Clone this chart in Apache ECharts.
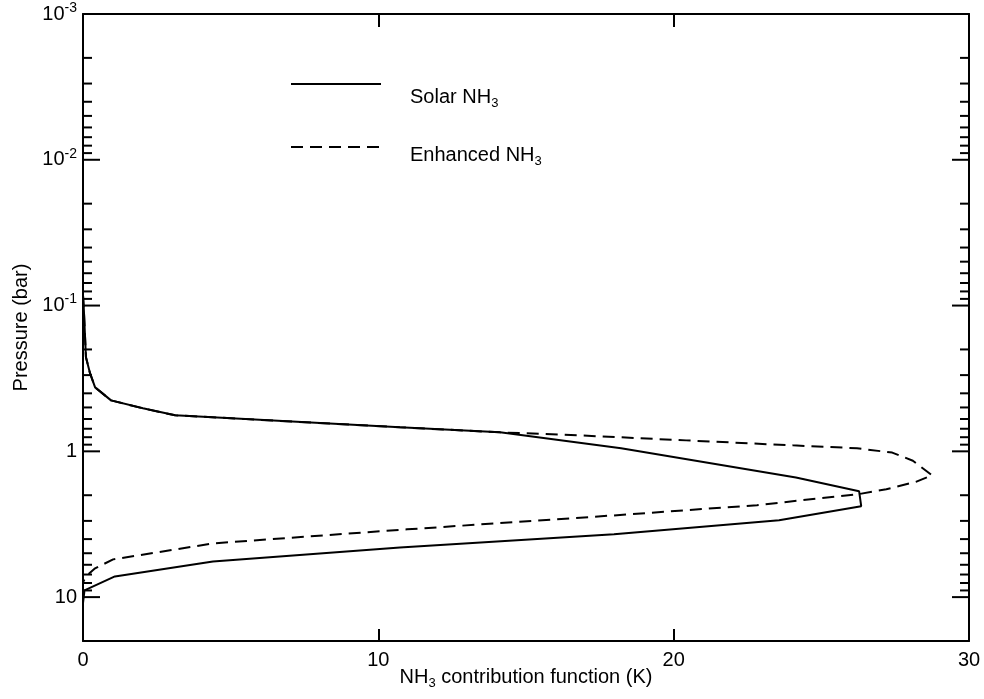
<!DOCTYPE html>
<html>
<head>
<meta charset="utf-8">
<script src="https://cdn.jsdelivr.net/npm/echarts@6/dist/echarts.min.js"></script>
<style>
  html, body { margin: 0; padding: 0; background: #fff; }
  #chart { width: 984px; height: 699px; }
</style>
</head>
<body>
<div id="chart"></div>
<script>
// ---- Data ----
// Solar NH3 contribution function: x = contribution (K), p = pressure (bar)
const solarX = [0, 0.03, 0.07, 0.10, 0.24, 0.41, 0.95, 2.03, 3.12, 10.73, 14.12, 18.22, 24.14, 26.28, 26.35, 23.57, 17.98, 10.73, 4.40, 1.08, 0.05, 0];
const solarP = [0.085, 0.108, 0.165, 0.226, 0.292, 0.364, 0.447, 0.507, 0.566, 0.684, 0.741, 0.954, 1.51, 1.88, 2.38, 2.97, 3.71, 4.56, 5.69, 7.21, 8.99, 11.0];

// Enhanced NH3 contribution function
const enhancedX = [0, 0.03, 0.07, 0.10, 0.24, 0.41, 0.95, 2.03, 3.12, 10.73, 14.12, 16.80, 20.42, 24.04, 26.21, 27.40, 28.10, 28.75, 28.20, 27.20, 26.30, 22.82, 17.98, 10.97, 4.40, 1.02, 0.41, 0.10, 0];
const enhancedP = [0.085, 0.108, 0.165, 0.226, 0.292, 0.364, 0.447, 0.507, 0.566, 0.684, 0.741, 0.777, 0.841, 0.910, 0.953, 1.02, 1.16, 1.46, 1.62, 1.82, 1.96, 2.34, 2.75, 3.43, 4.28, 5.51, 6.35, 7.21, 7.92];

// Axis settings / tick values
const xTicks = [0, 10, 20, 30];
const pressureMin = 0.001;
const pressureMax = 20;
const majorTickValues = [0.001, 0.01, 0.1, 1, 10];
const minorTickValues = [
  0.002, 0.003, 0.004, 0.005, 0.006, 0.007, 0.008, 0.009,
  0.02, 0.03, 0.04, 0.05, 0.06, 0.07, 0.08, 0.09,
  0.2, 0.3, 0.4, 0.5, 0.6, 0.7, 0.8, 0.9,
  2, 3, 4, 5, 6, 7, 8, 9
];
const seriesNames = ['Solar NH3', 'Enhanced NH3'];

// ---- Build ----
const FONT = '"Liberation Sans", Arial, Helvetica, sans-serif';
const solarData = solarX.map((x, i) => [x, solarP[i]]);
const enhancedData = enhancedX.map((x, i) => [x, enhancedP[i]]);
const tickData = majorTickValues.map(v => [xTicks[0], v, 17])
  .concat(minorTickValues.map(v => [xTicks[0], v, 9]));

function pLabel(v) {
  const l = Math.log10(v);
  const e = Math.round(l);
  if (Math.abs(l - e) > 1e-6) return '';
  if (e === 0) return '1';
  if (e === 1) return '10';
  return '10{sup|' + e + '}';
}

const chart = echarts.init(document.getElementById('chart'), null, { renderer: 'canvas' });

const baseText = { color: '#000', fontFamily: FONT, fontSize: 20 };
const subStyle = { fontFamily: FONT, fontSize: 13, color: '#000', verticalAlign: 'bottom', lineHeight: 13 };

chart.setOption({
  animation: false,
  backgroundColor: '#fff',
  grid: { left: 83, right: 15, top: 14, bottom: 58, containLabel: false, outerBoundsMode: 'none' },
  legend: [
    {
      data: [seriesNames[0]], left: 290, top: 58, padding: 0,
      itemWidth: 90, itemHeight: 14, selectedMode: false,
      itemStyle: { opacity: 0 },
      formatter: n => n.replace('NH3', 'NH{sub|3}'),
      textStyle: Object.assign({}, baseText, { lineHeight: 26, padding: [26, 0, 0, 24], rich: { sub: subStyle } })
    },
    {
      data: [seriesNames[1]], left: 290, top: 126, padding: 0,
      itemWidth: 90, itemHeight: 14, selectedMode: false,
      itemStyle: { opacity: 0 },
      formatter: n => n.replace('NH3', 'NH{sub|3}'),
      textStyle: Object.assign({}, baseText, { lineHeight: 26, padding: [16, 0, 0, 24], rich: { sub: subStyle } })
    }
  ],
  xAxis: [
    {
      type: 'value', min: xTicks[0], max: xTicks[xTicks.length - 1], interval: 10,
      position: 'bottom',
      name: 'NH{sub|3} contribution function (K)',
      nameLocation: 'middle', nameGap: 23, nameMoveOverlap: false,
      nameTextStyle: Object.assign({}, baseText, { lineHeight: 26, rich: { sub: subStyle } }),
      axisLine: { show: true, onZero: false, lineStyle: { color: '#000', width: 2 } },
      axisTick: { show: true, inside: true, length: 12, lineStyle: { color: '#000', width: 2 } },
      axisLabel: Object.assign({}, baseText, { margin: 9 }),
      splitLine: { show: false }
    },
    {
      type: 'value', min: xTicks[0], max: xTicks[xTicks.length - 1], interval: 10,
      position: 'top',
      axisLine: { show: true, onZero: false, lineStyle: { color: '#000', width: 2 } },
      axisTick: { show: true, inside: true, length: 13, lineStyle: { color: '#000', width: 2 } },
      axisLabel: { show: false },
      splitLine: { show: false }
    }
  ],
  yAxis: [
    {
      type: 'log', logBase: 10, min: pressureMin, max: pressureMax, inverse: true,
      position: 'left',
      name: 'Pressure (bar)', nameLocation: 'middle', nameGap: 50, nameRotate: 90, nameMoveOverlap: false,
      nameTextStyle: Object.assign({}, baseText, { lineHeight: 24 }),
      axisLine: { show: true, onZero: false, lineStyle: { color: '#000', width: 2 } },
      axisTick: { show: false },
      axisLabel: Object.assign({}, baseText, {
        margin: 6, lineHeight: 26, formatter: pLabel,
        rich: { sup: { fontFamily: FONT, fontSize: 14, color: '#000', verticalAlign: 'top', lineHeight: 14 } }
      }),
      splitLine: { show: false }, minorTick: { show: false }
    },
    {
      type: 'log', logBase: 10, min: pressureMin, max: pressureMax, inverse: true,
      position: 'right',
      axisLine: { show: true, onZero: false, lineStyle: { color: '#000', width: 2 } },
      axisTick: { show: false },
      axisLabel: { show: false },
      splitLine: { show: false }
    }
  ],
  series: [
    {
      name: seriesNames[0], type: 'line', data: solarData,
      xAxisIndex: 0, yAxisIndex: 0, symbol: 'none', showSymbol: false,
      lineStyle: { color: '#000', width: 2, type: 'solid' }, itemStyle: { color: '#000' },
      z: 3
    },
    {
      name: seriesNames[1], type: 'line', data: enhancedData,
      xAxisIndex: 0, yAxisIndex: 0, symbol: 'none', showSymbol: false,
      lineStyle: { color: '#000', width: 2, type: [12, 7] }, itemStyle: { color: '#000' },
      z: 3
    },
    {
      name: 'yTicks', type: 'custom', xAxisIndex: 0, yAxisIndex: 0,
      silent: true, clip: false,
      data: tickData,
      encode: { x: 0, y: 1 },
      renderItem: function (params, api) {
        const v = api.value(1);
        const len = api.value(2);
        const pl = api.coord([xTicks[0], v]);
        const pr = api.coord([xTicks[xTicks.length - 1], v]);
        const st = { stroke: '#000', lineWidth: 2 };
        return {
          type: 'group',
          children: [
            { type: 'line', shape: { x1: pl[0], y1: pl[1], x2: pl[0] + len, y2: pl[1] }, style: st },
            { type: 'line', shape: { x1: pr[0] - len, y1: pr[1], x2: pr[0], y2: pr[1] }, style: st }
          ]
        };
      }
    }
  ]
});
</script>
</body>
</html>
